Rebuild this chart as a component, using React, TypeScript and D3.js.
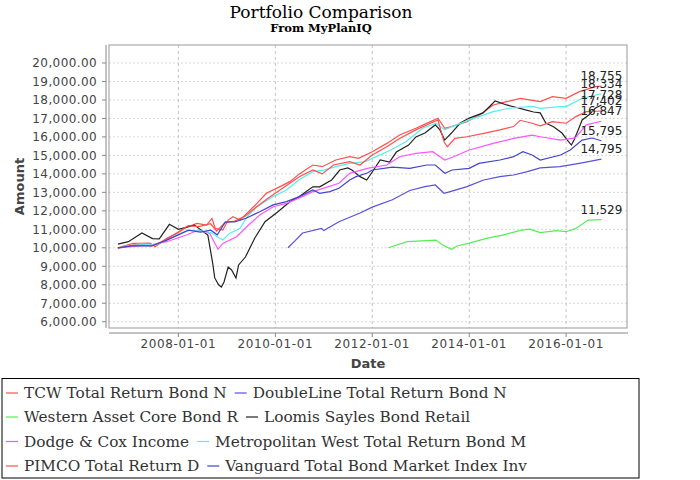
import React, { useEffect, useRef } from 'react';
import * as d3 from 'd3';

type Pt = [string, number];

// values (date, amount)
const TCW: Pt[] = [
  ['2006-10-02', 10000], ['2007-01-25', 10240], ['2007-06-01', 10260], ['2007-07-10', 10060],
  ['2007-10-05', 10510], ['2007-12-20', 10780], ['2008-03-01', 11110], ['2008-05-20', 11320],
  ['2008-08-01', 11230], ['2008-09-10', 11590], ['2008-10-05', 11050], ['2008-12-01', 10960],
  ['2009-01-10', 11500], ['2009-02-15', 11680], ['2009-04-10', 11500], ['2009-05-30', 11860],
  ['2009-08-15', 12400], ['2009-10-25', 12950], ['2010-02-05', 13310], ['2010-04-20', 13580],
  ['2010-07-01', 14000], ['2010-10-10', 14480], ['2010-12-20', 14390], ['2011-04-01', 14750],
  ['2011-07-15', 14930], ['2011-09-20', 14840], ['2012-01-01', 15200], ['2012-04-20', 15650],
  ['2012-07-25', 16100], ['2012-11-25', 16470], ['2013-03-15', 16830], ['2013-05-10', 17010],
  ['2013-07-01', 16470], ['2013-08-20', 16560], ['2013-12-15', 16830], ['2014-03-20', 17190],
  ['2014-07-01', 17730], ['2014-10-10', 17910], ['2015-01-20', 18090], ['2015-04-01', 18000],
  ['2015-06-20', 17910], ['2015-09-20', 18180], ['2016-01-01', 18090], ['2016-04-10', 18450],
  ['2016-08-10', 18720], ['2016-09-23', 18755],
];

const DOUBLELINE: Pt[] = [
  ['2010-04-06', 10000], ['2010-06-01', 10400], ['2010-07-25', 10800], ['2010-12-15', 11050],
  ['2011-01-01', 10930], ['2011-04-25', 11410], ['2011-10-01', 11880], ['2012-01-01', 12200],
  ['2012-06-01', 12600], ['2012-10-10', 13100], ['2013-02-01', 13310], ['2013-04-20', 13400],
  ['2013-06-25', 12950], ['2013-08-10', 13040], ['2013-12-15', 13310], ['2014-04-20', 13670],
  ['2014-08-20', 13850], ['2014-12-01', 13940], ['2015-03-15', 14120], ['2015-06-20', 14320],
  ['2015-11-15', 14390], ['2016-04-10', 14570], ['2016-09-23', 14795],
];

const WESTERN: Pt[] = [
  ['2012-05-01', 10000], ['2012-09-20', 10330], ['2013-04-25', 10420], ['2013-06-15', 10150],
  ['2013-08-20', 9920], ['2013-10-01', 10100], ['2014-01-01', 10250], ['2014-05-10', 10510],
  ['2014-09-10', 10690], ['2015-02-01', 10960], ['2015-04-01', 11010], ['2015-06-20', 10820],
  ['2015-10-20', 10930], ['2016-01-01', 10870], ['2016-03-15', 11050], ['2016-06-15', 11500],
  ['2016-09-23', 11529],
];

const LOOMIS: Pt[] = [
  ['2006-10-02', 10200], ['2006-12-20', 10330], ['2007-04-01', 10800], ['2007-06-20', 10500],
  ['2007-08-10', 10480], ['2007-10-25', 11270], ['2008-01-01', 11000], ['2008-05-01', 11230],
  ['2008-08-10', 10690], ['2008-09-15', 9180], ['2008-10-01', 8370], ['2008-10-30', 8000],
  ['2008-11-20', 7880], ['2008-12-10', 8150], ['2009-01-10', 8960], ['2009-02-05', 8800],
  ['2009-03-10', 8370], ['2009-03-30', 9070], ['2009-05-20', 9500], ['2009-07-30', 10530],
  ['2009-10-15', 11410], ['2010-01-20', 11950], ['2010-04-20', 12490], ['2010-07-01', 12770],
  ['2010-10-10', 13300], ['2010-12-01', 13300], ['2011-03-01', 13670], ['2011-05-01', 14210],
  ['2011-07-01', 14320], ['2011-08-01', 14210], ['2011-10-01', 13850], ['2011-11-20', 13670],
  ['2012-01-01', 14100], ['2012-03-01', 14750], ['2012-05-10', 14640], ['2012-07-01', 15180],
  ['2012-10-01', 15560], ['2012-11-25', 16000], ['2013-02-01', 16210], ['2013-04-20', 16650],
  ['2013-05-25', 16380], ['2013-06-30', 15830], ['2013-08-20', 16210], ['2013-10-25', 16750],
  ['2014-01-01', 17020], ['2014-04-15', 17300], ['2014-06-15', 17730], ['2014-07-15', 17950],
  ['2014-10-10', 17730], ['2014-12-10', 17620], ['2015-03-01', 17460], ['2015-05-01', 17350],
  ['2015-06-20', 17300], ['2015-08-01', 16750], ['2015-10-01', 16540], ['2015-12-01', 16210],
  ['2016-01-10', 15830], ['2016-02-10', 15560], ['2016-03-01', 15830], ['2016-04-01', 16370],
  ['2016-05-01', 16920], ['2016-06-20', 17190], ['2016-08-10', 17560], ['2016-09-23', 17728],
];

const DODGE: Pt[] = [
  ['2006-10-02', 10000], ['2007-06-01', 10150], ['2007-10-05', 10330], ['2008-03-01', 10690],
  ['2008-06-01', 10960], ['2008-08-25', 10780], ['2008-10-25', 9920], ['2008-12-01', 10240],
  ['2009-03-15', 10600], ['2009-05-30', 11140], ['2009-09-05', 11770], ['2009-12-15', 12220],
  ['2010-03-25', 12400], ['2010-07-01', 12700], ['2010-10-10', 13040], ['2011-04-25', 13490],
  ['2011-07-15', 14030], ['2011-11-25', 14300], ['2012-04-20', 14480], ['2012-07-25', 14930],
  ['2012-11-25', 15110], ['2013-04-01', 15200], ['2013-07-01', 14750], ['2013-09-05', 14930],
  ['2014-01-01', 15290], ['2014-07-01', 15650], ['2014-12-01', 15920], ['2015-04-20', 16100],
  ['2015-06-20', 16010], ['2015-11-20', 15830], ['2016-03-10', 15950], ['2016-06-01', 16650],
  ['2016-09-23', 16847],
];

const METWEST: Pt[] = [
  ['2006-10-02', 10000], ['2007-03-01', 10200], ['2007-07-10', 10150], ['2007-10-15', 10450],
  ['2008-01-01', 10750], ['2008-04-01', 10950], ['2008-07-01', 10900], ['2008-09-10', 10800],
  ['2008-10-20', 10600], ['2008-12-01', 10420], ['2009-01-20', 10780], ['2009-04-10', 11050],
  ['2009-06-01', 11680], ['2009-08-15', 12220], ['2009-12-15', 12770], ['2010-03-25', 13130],
  ['2010-07-01', 13700], ['2010-10-10', 14120], ['2011-01-01', 14200], ['2011-04-01', 14390],
  ['2011-07-15', 14570], ['2011-11-10', 14660], ['2012-01-01', 14840], ['2012-05-20', 15290],
  ['2012-09-10', 15740], ['2013-01-15', 16470], ['2013-04-25', 16740], ['2013-07-01', 16380],
  ['2013-08-25', 16560], ['2014-01-01', 16920], ['2014-07-01', 17370], ['2014-11-01', 17550],
  ['2015-04-20', 17650], ['2015-06-20', 17550], ['2015-11-20', 17640], ['2016-01-01', 17640],
  ['2016-05-01', 18090], ['2016-09-23', 18334],
];

const PIMCO: Pt[] = [
  ['2006-10-02', 9980], ['2007-02-01', 10150], ['2007-06-15', 10100], ['2007-10-01', 10450],
  ['2008-01-01', 10850], ['2008-03-15', 11200], ['2008-06-01', 11150], ['2008-09-01', 11300],
  ['2008-10-15', 10900], ['2008-12-15', 11350], ['2009-03-01', 11450], ['2009-05-15', 11700],
  ['2009-08-01', 12150], ['2009-11-01', 12650], ['2010-03-01', 13250], ['2010-07-01', 13850],
  ['2010-10-10', 14210], ['2010-12-20', 14000], ['2011-03-15', 14480], ['2011-07-15', 14660],
  ['2011-10-01', 14480], ['2012-01-01', 15020], ['2012-04-20', 15470], ['2012-07-25', 15920],
  ['2012-11-25', 16380], ['2013-03-15', 16740], ['2013-05-10', 16920], ['2013-06-25', 15740],
  ['2013-07-20', 15470], ['2013-09-15', 15920], ['2013-12-15', 16010], ['2014-04-20', 16190],
  ['2014-08-20', 16380], ['2014-12-01', 16560], ['2015-01-20', 16900], ['2015-04-20', 16740],
  ['2015-06-20', 16600], ['2015-09-20', 16830], ['2016-01-01', 16740], ['2016-03-15', 17100],
  ['2016-06-01', 17370], ['2016-09-23', 17402],
];

const VANGUARD: Pt[] = [
  ['2006-10-02', 10000], ['2007-01-15', 10100], ['2007-06-15', 10100], ['2007-10-01', 10400],
  ['2008-01-01', 10700], ['2008-03-15', 10950], ['2008-06-15', 10850], ['2008-09-01', 10950],
  ['2008-10-20', 10700], ['2008-12-20', 11400], ['2009-03-01', 11400], ['2009-05-25', 11600],
  ['2009-09-05', 11950], ['2009-12-15', 12320], ['2010-03-25', 12500], ['2010-07-01', 12770],
  ['2010-10-10', 13130], ['2010-12-01', 12950], ['2011-02-15', 13040], ['2011-04-25', 13220],
  ['2011-07-15', 13670], ['2011-09-01', 13850], ['2011-11-25', 14050], ['2012-01-01', 14210],
  ['2012-06-01', 14370], ['2012-10-10', 14300], ['2013-02-15', 14480], ['2013-04-20', 14480],
  ['2013-07-01', 14030], ['2013-08-25', 14210], ['2014-01-01', 14300], ['2014-03-15', 14570],
  ['2014-08-20', 14750], ['2014-12-01', 14930], ['2015-02-10', 15200], ['2015-04-20', 15020],
  ['2015-06-20', 14750], ['2015-11-20', 15020], ['2016-02-01', 15290], ['2016-05-01', 15830],
  ['2016-07-15', 15940], ['2016-09-23', 15795],
];

const SERIES_NAMES = [
  'TCW Total Return Bond N', 'DoubleLine Total Return Bond N',
  'Western Asset Core Bond R', 'Loomis Sayles Bond Retail',
  'Dodge & Cox Income', 'Metropolitan West Total Return Bond M',
  'PIMCO Total Return D', 'Vanguard Total Bond Market Index Inv',
];
const SERIES_DATA = [TCW, DOUBLELINE, WESTERN, LOOMIS, DODGE, METWEST, PIMCO, VANGUARD];
const COLORS = ['#ff5050', '#5a50dd', '#55ee55', '#222222', '#ff55ff', '#55eeee', '#ff5050', '#4444cc'];

const Y_TICKS = [6000, 7000, 8000, 9000, 10000, 11000, 12000, 13000, 14000, 15000, 16000, 17000, 18000, 19000, 20000];
const X_TICKS = ['2008-01-01', '2010-01-01', '2012-01-01', '2014-01-01', '2016-01-01'];

const PLOT = { left: 109, right: 627, top: 45, bottom: 328 };
const parse = d3.utcParse('%Y-%m-%d');

const App = () => {
  const svgRef = useRef<SVGSVGElement | null>(null);

  useEffect(() => {
    if (!svgRef.current) return;
    const svg = d3.select(svgRef.current);
    svg.selectAll('*').remove();

    const x = d3.scaleUtc()
      .domain([parse('2006-07-27')!, parse('2017-04-04')!])
      .range([PLOT.left, PLOT.right]);
    const y = d3.scaleLinear().domain([5660, 20974]).range([PLOT.bottom, PLOT.top]);

    svg.append('rect').attr('width', 700).attr('height', 480).attr('fill', '#fff');

    // titles
    svg.append('text').attr('x', 321).attr('y', 18).attr('text-anchor', 'middle')
      .attr('font-family', 'DejaVu Serif').attr('font-size', 17).attr('fill', '#000')
      .text('Portfolio Comparison');
    svg.append('text').attr('x', 321).attr('y', 32).attr('text-anchor', 'middle')
      .attr('font-family', 'DejaVu Serif').attr('font-weight', 'bold').attr('font-size', 11.5)
      .attr('fill', '#000').text('From MyPlanIQ');

    // grid
    const g = svg.append('g');
    g.selectAll('.hg').data(Y_TICKS).enter().append('line')
      .attr('x1', PLOT.left).attr('x2', PLOT.right)
      .attr('y1', d => y(d)).attr('y2', d => y(d))
      .attr('stroke', '#d8d8d8').attr('stroke-width', 1).attr('stroke-dasharray', '2,2');
    g.selectAll('.vg').data(X_TICKS).enter().append('line')
      .attr('x1', d => x(parse(d)!)).attr('x2', d => x(parse(d)!))
      .attr('y1', PLOT.top).attr('y2', PLOT.bottom)
      .attr('stroke', '#c4c4c4').attr('stroke-width', 1).attr('stroke-dasharray', '3,3');

    // plot outline
    g.append('rect').attr('x', PLOT.left).attr('y', PLOT.top)
      .attr('width', PLOT.right - PLOT.left).attr('height', PLOT.bottom - PLOT.top)
      .attr('fill', 'none').attr('stroke', '#999').attr('stroke-width', 1);

    // y axis
    const yAxisX = 106;
    g.append('line').attr('x1', yAxisX).attr('x2', yAxisX).attr('y1', PLOT.top).attr('y2', PLOT.bottom)
      .attr('stroke', '#888');
    Y_TICKS.forEach(t => {
      g.append('line').attr('x1', yAxisX - 4).attr('x2', yAxisX).attr('y1', y(t)).attr('y2', y(t))
        .attr('stroke', '#888');
      g.append('text').attr('x', 97).attr('y', y(t) + 4.5).attr('text-anchor', 'end')
        .attr('font-family', 'DejaVu Sans').attr('font-size', 12).attr('letter-spacing', 0.4)
        .attr('fill', '#444').text(d3.format(',.2f')(t));
    });

    // x axis
    const xAxisY = 333;
    g.append('line').attr('x1', PLOT.left).attr('x2', PLOT.right + 1).attr('y1', xAxisY).attr('y2', xAxisY)
      .attr('stroke', '#888');
    X_TICKS.forEach(t => {
      const px = x(parse(t)!);
      g.append('line').attr('x1', px).attr('x2', px).attr('y1', xAxisY).attr('y2', xAxisY + 4)
        .attr('stroke', '#888');
      g.append('text').attr('x', px).attr('y', 348).attr('text-anchor', 'middle')
        .attr('font-family', 'DejaVu Sans').attr('font-size', 12).attr('letter-spacing', 0.6)
        .attr('fill', '#444').text(t);
    });

    // axis labels
    g.append('text').attr('x', (PLOT.left + PLOT.right) / 2).attr('y', 368).attr('text-anchor', 'middle')
      .attr('font-family', 'DejaVu Sans').attr('font-weight', 'bold').attr('font-size', 13)
      .attr('fill', '#444').text('Date');
    g.append('text').attr('transform', `translate(24, ${(PLOT.top + PLOT.bottom) / 2}) rotate(-90)`)
      .attr('text-anchor', 'middle')
      .attr('font-family', 'DejaVu Sans').attr('font-weight', 'bold').attr('font-size', 13)
      .attr('fill', '#444').text('Amount');

    // lines
    const line = d3.line<Pt>().x(d => x(parse(d[0])!)).y(d => y(d[1]));
    SERIES_DATA.forEach((data, i) => {
      g.append('path').attr('d', line(data)!).attr('fill', 'none')
        .attr('stroke', COLORS[i]).attr('stroke-width', 1.2);
    });

    // end labels
    SERIES_DATA.forEach(data => {
      const last = data[data.length - 1];
      g.append('text').attr('x', x(parse(last[0])!)).attr('y', y(last[1]) - 6)
        .attr('text-anchor', 'middle').attr('font-family', 'DejaVu Sans').attr('font-size', 12)
        .attr('fill', '#222').text(d3.format(',')(last[1]));
    });

    // legend
    const lg = svg.append('g');
    lg.append('rect').attr('x', 2).attr('y', 378.5).attr('width', 637).attr('height', 99.5)
      .attr('fill', '#fff').attr('stroke', '#000').attr('stroke-width', 1);
    const rowBase = [398, 422, 446.5, 471];
    for (let r = 0; r < 4; r++) {
      let cx = 6;
      for (let c = 0; c < 2; c++) {
        const i = r * 2 + c;
        const base = rowBase[r];
        lg.append('line').attr('x1', cx).attr('x2', cx + 12).attr('y1', base - 5).attr('y2', base - 5)
          .attr('stroke', COLORS[i]).attr('stroke-width', 1.2);
        const t = lg.append('text').attr('x', cx + 18).attr('y', base)
          .attr('font-family', 'DejaVu Serif').attr('font-size', 15.3).attr('fill', '#333')
          .text(SERIES_NAMES[i]);
        const w = (t.node() as SVGTextElement).getComputedTextLength();
        cx += 18 + w + 8;
      }
    }
  }, []);

  return (
    <div style={{ position: 'absolute', left: 0, top: 0 }}>
      <svg ref={svgRef} width={700} height={480} style={{ display: 'block' }} />
    </div>
  );
};

export default App;
